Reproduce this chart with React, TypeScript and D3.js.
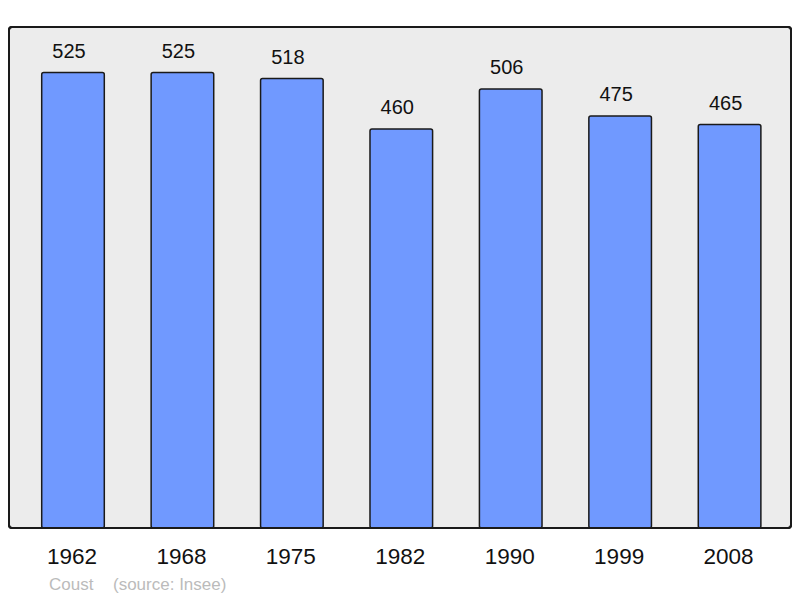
import React from 'react'
import * as d3 from 'd3'

const years = ['1962', '1968', '1975', '1982', '1990', '1999', '2008']
const population = [525, 525, 518, 460, 506, 475, 465]

export default function App() {
  const width = 800
  const height = 598
  const frame = { left: 9, top: 27, right: 791, bottom: 528 }

  const step = 109.43
  const barW = 62.6
  const pad = 1 - barW / step
  const x = d3.scaleBand<string>()
    .domain(years)
    .range([41.7 - (pad / 2) * step, 41.7 - (pad / 2) * step + step * years.length])
    .paddingInner(pad)
    .paddingOuter(pad / 2)

  const y = d3.scaleLinear()
    .domain([0, d3.max(population)! * 1.1])
    .range([frame.bottom, frame.top])

  const font = 'Liberation Sans, Arial, sans-serif'

  return (
    <svg width={width} height={height} style={{ position: 'absolute', left: 0, top: 0 }}>
      <rect x={0} y={0} width={width} height={height} fill="#ffffff" />
      <rect
        x={frame.left} y={frame.top}
        width={frame.right - frame.left} height={frame.bottom - frame.top}
        rx={3} fill="#ececec" stroke="#1a1a1a" strokeWidth={2}
      />
      {years.map((yr, i) => {
        const bx = x(yr)!
        const by = y(population[i])
        const cx = bx + x.bandwidth() / 2
        return (
          <g key={yr}>
            <rect
              x={bx} y={by} width={x.bandwidth()} height={frame.bottom - by}
              rx={2} fill="#7099ff" stroke="#1a1a1a" strokeWidth={1.5}
            />
            <text x={cx - 4} y={by - 15} textAnchor="middle"
              fontFamily={font} fontSize={20} fill="#111">{population[i]}</text>
            <text x={cx - 1} y={564} textAnchor="middle"
              fontFamily={font} fontSize={22.5} fill="#111">{yr}</text>
          </g>
        )
      })}
      <rect x={frame.left} y={frame.top} width={frame.right - frame.left}
        height={frame.bottom - frame.top} rx={3} fill="none" stroke="#1a1a1a" strokeWidth={2} />
      <text x={49} y={590} fontFamily={font} fontSize={17} fill="#bbbbbb">Coust</text>
      <text x={113} y={590} fontFamily={font} fontSize={17} fill="#bbbbbb">(source: Insee)</text>
    </svg>
  )
}
